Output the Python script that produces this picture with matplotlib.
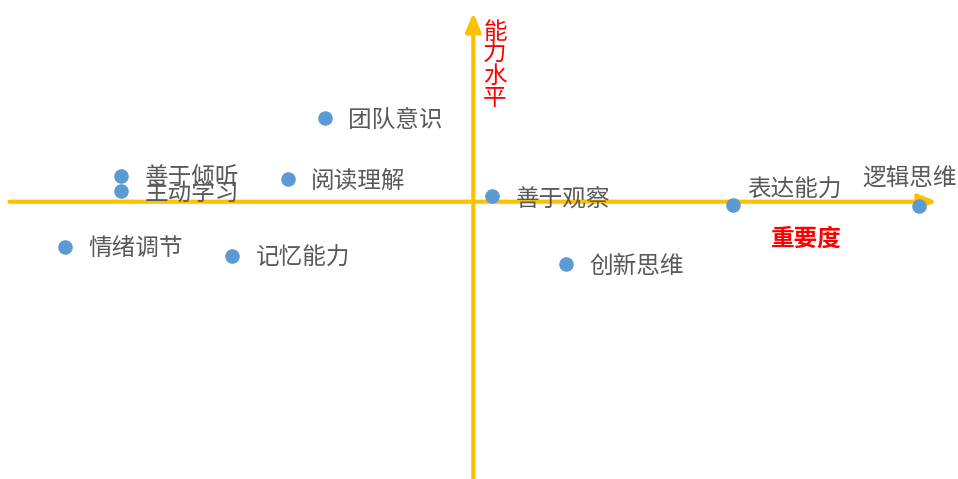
import matplotlib
matplotlib.use("Agg")
import matplotlib.pyplot as plt

plt.rcParams['font.family'] = ['Noto Sans CJK SC', 'DejaVu Sans']

labels = ['团队意识', '善于倾听', '主动学习', '阅读理解', '善于观察',
          '表达能力', '逻辑思维', '情绪调节', '记忆能力', '创新思维']
importance = [-1.60, -3.80, -3.80, -2.00, 0.20, 2.80, 4.80, -4.40, -2.60, 1.00]
ability = [0.90, 0.28, 0.12, 0.25, 0.06, -0.04, -0.05, -0.49, -0.58, -0.67]

x_title = '重要度'
y_title = '能力水平'

AXIS_COLOR = '#FFC000'
POINT_COLOR = '#5B9BD5'
TEXT_COLOR = '#595959'

fig = plt.figure(figsize=(9.58, 4.79), dpi=100)
ax = fig.add_axes([0, 0, 1, 1])
ax.set_xlim(-5.102, 5.225)
ax.set_ylim(-2.989, 2.174)
ax.axis('off')

# axes with arrows
arrow_kw = dict(arrowstyle='-|>,head_length=1.1,head_width=0.45', lw=3.0,
                color=AXIS_COLOR, shrinkA=0, shrinkB=0, mutation_scale=10)
ax.annotate('', xy=(5.0, 0), xytext=(-5.0, 0), arrowprops=arrow_kw, zorder=1)
ax.annotate('', xy=(0, 2.037), xytext=(0, -3.2), arrowprops=arrow_kw, zorder=1)

ax.scatter(importance, ability, s=110, color=POINT_COLOR, zorder=3, linewidths=0)

offsets = {'表达能力': (14, 15), '逻辑思维': (-56, 27)}
for lab, x, y in zip(labels, importance, ability):
    dx, dy = offsets.get(lab, (23.5, -2.5))
    ax.annotate(lab, xy=(x, y), xytext=(dx, dy), textcoords='offset pixels',
                ha='left', va='center', fontsize=17, color=TEXT_COLOR,
                fontweight='light', zorder=4)

ax.text(3.594, -0.40, x_title, ha='center', va='center', fontsize=17,
        color='#FF0000', fontweight='bold')
ax.text(0.234, 1.47, '\n'.join(y_title), ha='center', va='center', fontsize=17,
        color='#FF0000', fontweight='normal', linespacing=0.95)

fig.savefig('out.png', dpi=100)
